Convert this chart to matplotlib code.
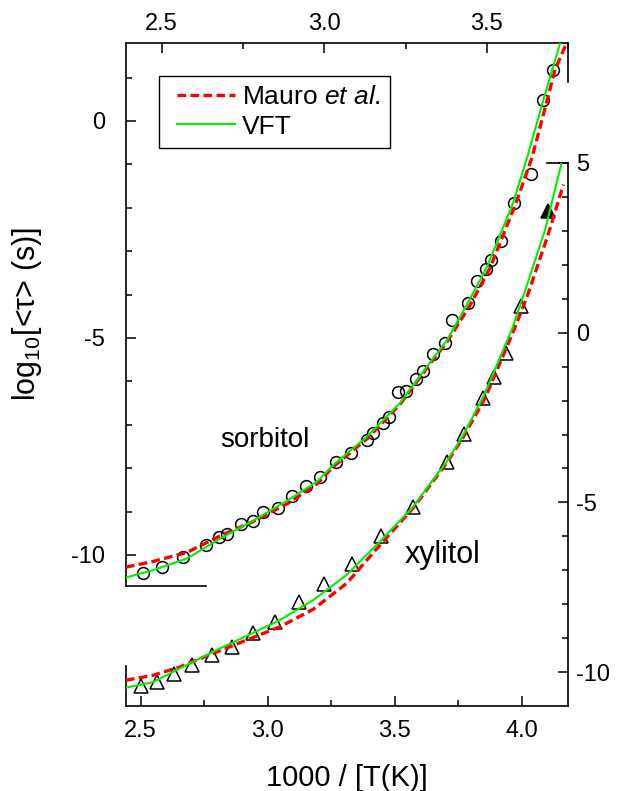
import matplotlib
matplotlib.use("Agg")
import matplotlib.pyplot as plt
from matplotlib.lines import Line2D
from matplotlib.legend_handler import HandlerLine2D
from matplotlib.ticker import MultipleLocator, FormatStrFormatter

# sorbitol: top x axis / left y axis
sor_x = [2.442, 2.500, 2.566, 2.636, 2.677, 2.702, 2.743, 2.780, 2.813, 2.858,
         2.901, 2.944, 2.987, 3.036, 3.082, 3.130, 3.149, 3.181, 3.199, 3.227,
         3.252, 3.282, 3.305, 3.334, 3.371, 3.392, 3.443, 3.471, 3.498, 3.513,
         3.543, 3.585, 3.636, 3.674, 3.703]
sor_y = [-10.41, -10.28, -10.05, -9.77, -9.58, -9.52, -9.29, -9.21, -9.02, -8.91,
         -8.64, -8.41, -8.20, -7.85, -7.66, -7.34, -7.18, -6.97, -6.81, -6.24,
         -6.22, -5.94, -5.75, -5.38, -5.12, -4.58, -4.19, -3.68, -3.40, -3.20,
         -2.76, -1.90, -1.23, 0.48, 1.18]

sor_vft_x = [2.390, 2.473, 2.578, 2.680, 2.781, 2.886, 2.978, 3.027, 3.132, 3.233,
             3.335, 3.378, 3.442, 3.501, 3.581, 3.624, 3.674, 3.729]
sor_vft_y = [-10.52, -10.35, -10.08, -9.62, -9.21, -8.75, -8.31, -7.93, -7.27, -6.50,
             -5.47, -5.05, -4.19, -3.36, -1.89, -0.85, 0.48, 1.87]

sor_mauro_x = [2.390, 2.473, 2.578, 2.680, 2.781, 2.886, 2.978, 3.027, 3.132, 3.233,
               3.335, 3.378, 3.449, 3.510, 3.590, 3.639, 3.686, 3.710, 3.747]
sor_mauro_y = [-10.28, -10.15, -9.94, -9.56, -9.23, -8.82, -8.36, -7.97, -7.32, -6.53,
               -5.50, -5.09, -4.24, -3.39, -1.89, -0.85, 0.48, 1.18, 1.82]

# xylitol: bottom x axis / right y axis
xyl_x = [2.500, 2.565, 2.631, 2.701, 2.779, 2.858, 2.941, 3.029, 3.123, 3.223,
         3.331, 3.446, 3.572, 3.705, 3.774, 3.847, 3.892, 3.937, 3.998]
xyl_y = [-10.40, -10.29, -10.06, -9.78, -9.49, -9.25, -8.85, -8.52, -7.92, -7.40,
         -6.81, -5.98, -5.14, -3.82, -2.98, -1.93, -1.30, -0.59, 0.77]
xyl_solid_x = [4.103]
xyl_solid_y = [3.58]

xyl_vft_x = [2.442, 2.548, 2.655, 2.786, 2.917, 3.048, 3.180, 3.311, 3.442, 3.573,
             3.705, 3.770, 3.849, 3.961, 4.006, 4.092, 4.157]
xyl_vft_y = [-10.45, -10.29, -9.88, -9.39, -8.93, -8.46, -7.87, -7.13, -6.15, -5.12,
             -3.79, -3.01, -1.88, 0.09, 1.07, 3.03, 5.00]

xyl_mauro_x = [2.442, 2.548, 2.655, 2.786, 2.917, 3.048, 3.180, 3.311, 3.442, 3.573,
               3.705, 3.770, 3.856, 3.970, 4.021, 4.104, 4.164]
xyl_mauro_y = [-10.23, -10.09, -9.84, -9.44, -9.05, -8.66, -8.14, -7.38, -6.25, -5.16,
               -3.83, -3.07, -1.92, 0.09, 1.06, 2.89, 4.36]

plt.rcParams["font.family"] = ["Liberation Sans", "DejaVu Sans"]
plt.rcParams["mathtext.fontset"] = "custom"
plt.rcParams["mathtext.rm"] = "Liberation Sans"
plt.rcParams["mathtext.it"] = "Liberation Sans:italic"
plt.rcParams["axes.unicode_minus"] = False

RED = "#ff0000"
GREEN = "#00ee00"
dash = (0, (2.6, 1.3))

fig = plt.figure(figsize=(6.17, 7.91), dpi=100)
ax1 = fig.add_axes([0.2042, 0.2592, 0.7164, 0.6869])
ax2 = fig.add_axes([0.2042, 0.1078, 0.7164, 0.6865])
for ax in (ax1, ax2):
    ax.patch.set_visible(False)
    for sp in ax.spines.values():
        sp.set_linewidth(1.2)

# ---- sorbitol layer
ax1.plot(sor_x, sor_y, "o", ms=8.5, mfc="none", mec="black", mew=1.1, zorder=2)
l_m, = ax1.plot(sor_mauro_x, sor_mauro_y, color=RED, lw=2.4, ls=dash, zorder=3,
                label=r"Mauro $\mathit{et\ al}$.")
l_v, = ax1.plot(sor_vft_x, sor_vft_y, color=GREEN, lw=1.5, zorder=4, label="VFT")
ax1.set_xlim(2.390, 3.750)
ax1.set_ylim(-10.714, 1.804)
ax1.xaxis.tick_top()
ax1.xaxis.set_major_locator(MultipleLocator(0.5))
ax1.xaxis.set_minor_locator(MultipleLocator(0.25))
ax1.yaxis.set_major_locator(MultipleLocator(5))
ax1.yaxis.set_minor_locator(MultipleLocator(1))
ax1.tick_params(which="both", direction="in", labelsize=17, width=1.1,
                top=True, bottom=False, left=True, right=False)
ax1.tick_params(which="major", length=7)
ax1.tick_params(which="minor", length=4)
ax1.tick_params(axis="x", pad=5.5)
ax1.tick_params(axis="y", pad=15)
ax1.xaxis.set_major_formatter(FormatStrFormatter("%.1f"))
ax1.spines["bottom"].set_bounds(2.390, 2.636)
ax1.spines["right"].set_bounds(0.906, 1.804)
ax1.set_ylabel(r"log$_{10}$[<τ> (s)]", fontsize=22)
ax1.yaxis.set_label_coords(-0.185, 0.5)
ax1.text(2.818, -7.35, "sorbitol", fontsize=20, ha="center", va="center")

leg = ax1.legend(handles=[l_m, l_v], loc="upper left",
                 bbox_to_anchor=(159 / 617, 1 - 76 / 791), bbox_transform=fig.transFigure,
                 fontsize=19, frameon=True, fancybox=False, framealpha=1,
                 edgecolor="black", handlelength=2.53, handletextpad=0.27,
                 borderpad=0.35, labelspacing=0.2, borderaxespad=0,
                 handler_map={Line2D: HandlerLine2D(xpad=0.34)})
leg.get_frame().set_linewidth(1.0)

# ---- xylitol layer
ax2.plot(xyl_x, xyl_y, "^", ms=9.5, mfc="none", mec="black", mew=1.1, zorder=2)
ax2.plot(xyl_solid_x, xyl_solid_y, "^", ms=9.5, mfc="black", mec="black", mew=1.1, zorder=2)
ax2.plot(xyl_mauro_x, xyl_mauro_y, color=RED, lw=2.4, ls=dash, zorder=3)
ax2.plot(xyl_vft_x, xyl_vft_y, color=GREEN, lw=1.5, zorder=4)
ax2.set_xlim(2.4421, 4.182)
ax2.set_ylim(-10.983, 5.0)
ax2.yaxis.tick_right()
ax2.xaxis.set_major_locator(MultipleLocator(0.5))
ax2.xaxis.set_minor_locator(MultipleLocator(0.25))
ax2.yaxis.set_major_locator(MultipleLocator(5))
ax2.yaxis.set_minor_locator(MultipleLocator(1))
ax2.tick_params(which="both", direction="in", labelsize=17, width=1.1,
                top=False, bottom=True, left=False, right=True)
ax2.tick_params(which="major", length=7)
ax2.tick_params(which="minor", length=4)
ax2.tick_params(axis="x", pad=10)
ax2.tick_params(axis="y", pad=6)
ax2.xaxis.set_major_formatter(FormatStrFormatter("%.1f"))
ax2.spines["left"].set_bounds(-10.983, -9.8)
ax2.spines["top"].set_bounds(4.098, 4.182)
ax2.set_xlabel("1000 / [T(K)]", fontsize=21)
ax2.xaxis.set_label_coords(0.5, -0.108)
ax2.text(3.690, -6.54, "xylitol", fontsize=22, ha="center", va="center")

fig.savefig("out.png", dpi=100)
